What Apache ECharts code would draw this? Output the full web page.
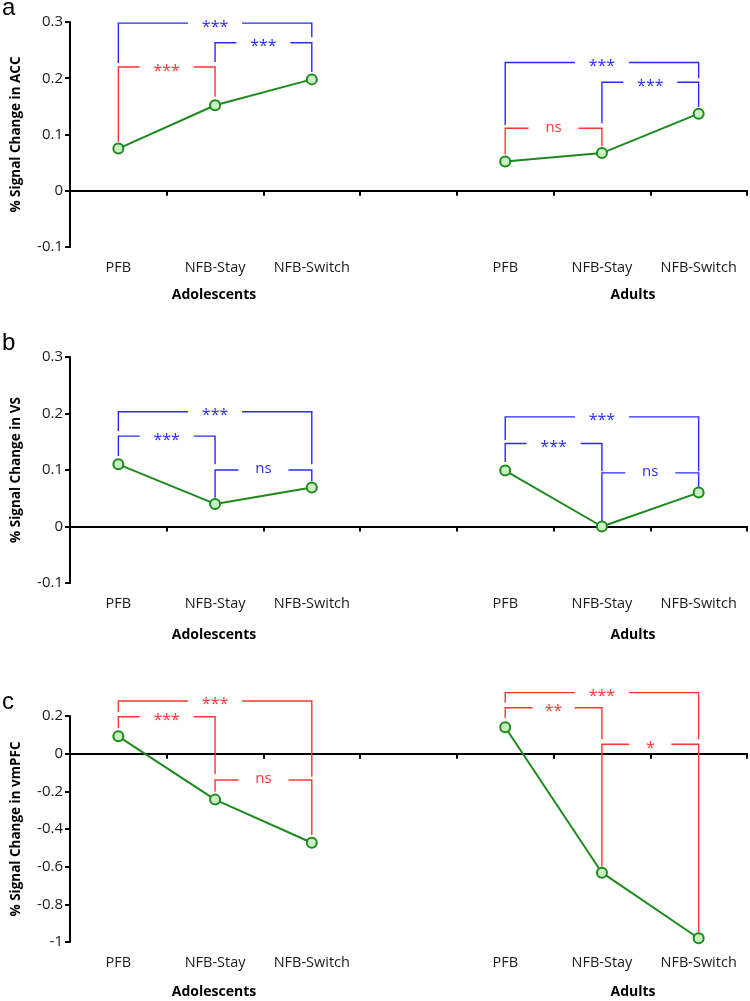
<!DOCTYPE html>
<html>
<head>
<meta charset="utf-8">
<title>Signal change</title>
<script src="https://cdn.jsdelivr.net/npm/echarts@6/dist/echarts.min.js"></script>
<style>
    html, body { margin: 0; padding: 0; background: #fff; }
    #chart { width: 750px; height: 1001px; }
</style>
</head>
<body>
<div id="chart"></div>
<script>
// x categories (the empty one is the gap between the two groups)
var categories = ['PFB', 'NFB-Stay', 'NFB-Switch', '', 'PFB', 'NFB-Stay', 'NFB-Switch'];
var groupNames = ['Adolescents', 'Adults'];

// % signal change per region
var accValues = [0.075, 0.152, 0.198, null, 0.052, 0.067, 0.137];
var vsValues = [0.110, 0.040, 0.069, null, 0.099, 0.000, 0.060];
var vmpfcValues = [0.092, -0.244, -0.473, null, 0.140, -0.632, -0.980];

// y axis ticks: min, max, step
var accTicks = [-0.1, 0.3, 0.1];
var vsTicks = [-0.1, 0.3, 0.1];
var vmpfcTicks = [-1, 0.2, 0.2];

// significance brackets: [from, to, top, left end, right end, label, colour]
var accBrackets = [
    [0, 1, 0.220, 0.087, 0.167, '***', 'r'],
    [0, 2, 0.298, 0.227, 0.273, '***', 'b'],
    [1, 2, 0.263, 0.229, 0.211, '***', 'b'],
    [4, 5, 0.111, 0.065, 0.079, 'ns', 'r'],
    [4, 6, 0.228, 0.117, 0.200, '***', 'b'],
    [5, 6, 0.193, 0.120, 0.149, '***', 'b']
];
var vsBrackets = [
    [0, 2, 0.203, 0.169, 0.110, '***', 'b'],
    [0, 1, 0.160, 0.125, 0.110, '***', 'b'],
    [1, 2, 0.100, 0.051, 0.080, 'ns', 'b'],
    [4, 6, 0.194, 0.153, 0.098, '***', 'b'],
    [4, 5, 0.147, 0.114, 0.098, '***', 'b'],
    [5, 6, 0.095, 0.007, 0.067, 'ns', 'b']
];
var vmpfcBrackets = [
    [0, 2, 0.280, 0.223, -0.122, '***', 'r'],
    [0, 1, 0.196, 0.135, -0.108, '***', 'r'],
    [1, 2, -0.140, -0.202, -0.432, 'ns', 'r'],
    [4, 6, 0.324, 0.271, 0.076, '***', 'r'],
    [4, 5, 0.244, 0.188, 0.076, '**', 'r'],
    [5, 6, 0.050, -0.600, -0.954, '*', 'r']
];

var FONT = '"Open Sans", "Noto Sans", sans-serif';
var GREEN = '#1c8a1c';
var bracketColors = { r: '#ff3535', b: '#2a2aff' };
// half width of the hole left in the bracket for its label
var labelGaps = { '***': 27, 'ns': 25, '**': 21, '*': 21 };

// panel layout
var panels = [
    { letter: 'a', name: '% Signal Change in ACC', values: accValues, ticks: accTicks, brackets: accBrackets, top: 22, height: 225 },
    { letter: 'b', name: '% Signal Change in VS', values: vsValues, ticks: vsTicks, brackets: vsBrackets, top: 357, height: 226 },
    { letter: 'c', name: '% Signal Change in vmPFC', values: vmpfcValues, ticks: vmpfcTicks, brackets: vmpfcBrackets, top: 716, height: 226 }
];

var grid = [], xAxis = [], yAxis = [], series = [], graphic = [];

function bracketRenderer(list) {
    return function (params, api) {
        var b = list[params.dataIndex];
        var xL = api.coord([b[0], 0])[0];
        var xR = api.coord([b[1], 0])[0];
        var yTop = api.coord([b[0], b[2]])[1];
        var yL = api.coord([b[0], b[3]])[1];
        var yR = api.coord([b[1], b[4]])[1];
        var mid = (xL + xR) / 2;
        var gap = labelGaps[b[5]];
        var color = bracketColors[b[6]];
        var line = { stroke: color, lineWidth: 1.4, fill: null };
        var isStar = b[5].charAt(0) === '*';
        return {
            type: 'group',
            children: [
                { type: 'polyline', shape: { points: [[xL, yL], [xL, yTop], [mid - gap, yTop]] }, style: line },
                { type: 'polyline', shape: { points: [[mid + gap, yTop], [xR, yTop], [xR, yR]] }, style: line },
                {
                    type: 'text',
                    x: mid, y: yTop + (isStar ? 4 : -1),
                    style: {
                        text: b[5], fill: color, font: (isStar ? '16px ' : '15px ') + FONT,
                        align: 'center', verticalAlign: 'middle'
                    }
                }
            ]
        };
    };
}

panels.forEach(function (p, i) {
    grid.push({ left: 70, right: 3, top: p.top, height: p.height });

    // axis on the zero line: ticks only
    xAxis.push({
        type: 'category', gridIndex: i, data: categories, boundaryGap: true,
        axisLine: { onZero: true, lineStyle: { color: '#000', width: 2 } },
        axisTick: { show: true, length: 5, lineStyle: { color: '#000', width: 2 } },
        axisLabel: { show: false },
        splitLine: { show: false }
    });
    // labels at the bottom of the plot
    xAxis.push({
        type: 'category', gridIndex: i, data: categories, boundaryGap: true, position: 'bottom',
        axisLine: { show: false, onZero: false },
        axisTick: { show: false },
        axisLabel: { show: true, interval: 0, margin: 13, color: '#1a1a1a', fontSize: 14.5, fontFamily: FONT },
        splitLine: { show: false }
    });

    yAxis.push({
        type: 'value', gridIndex: i,
        min: p.ticks[0], max: p.ticks[1], interval: p.ticks[2],
        name: p.name, nameLocation: 'middle', nameGap: 47,
        nameTextStyle: { color: '#000', fontSize: 13.5, fontWeight: 'bold', fontFamily: FONT },
        axisLine: { show: true, lineStyle: { color: '#000', width: 2 } },
        axisTick: { show: true, length: 5, lineStyle: { color: '#000', width: 2 } },
        axisLabel: { color: '#1a1a1a', fontSize: 15, fontFamily: FONT, margin: 7 },
        splitLine: { show: false }
    });

    series.push({
        type: 'custom', xAxisIndex: i * 2, yAxisIndex: i,
        clip: false, silent: true, z: 1,
        data: p.brackets.map(function (b) { return [b[0], b[2]]; }),
        renderItem: bracketRenderer(p.brackets)
    });

    series.push({
        type: 'line', xAxisIndex: i * 2, yAxisIndex: i,
        data: p.values, connectNulls: false, z: 3,
        symbol: 'circle', symbolSize: 10,
        lineStyle: { color: GREEN, width: 2 },
        itemStyle: { color: '#c9efc4', borderColor: GREEN, borderWidth: 2 }
    });

    // panel letter
    graphic.push({
        type: 'text', left: 2, top: p.top - 26,
        style: { text: p.letter, font: '24px "Liberation Sans", Arial, sans-serif', fill: '#000' }
    });
});

// group titles under each panel
var groupCenters = [214, 633];
var groupTops = [288, 628, 985];
groupTops.forEach(function (t) {
    groupNames.forEach(function (g, k) {
        graphic.push({
            type: 'text', x: groupCenters[k], y: t,
            style: { text: g, font: 'bold 14px ' + FONT, fill: '#000', align: 'center', verticalAlign: 'top' }
        });
    });
});

var chart = echarts.init(document.getElementById('chart'));
chart.setOption({
    animation: false,
    backgroundColor: '#fff',
    grid: grid,
    xAxis: xAxis,
    yAxis: yAxis,
    series: series,
    graphic: graphic
});
</script>
</body>
</html>
